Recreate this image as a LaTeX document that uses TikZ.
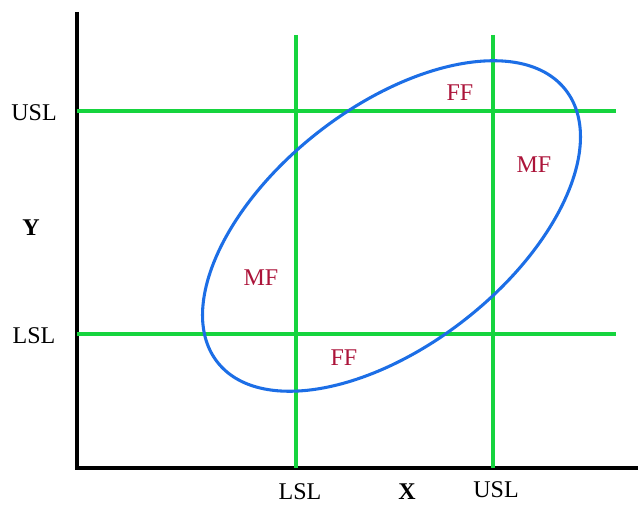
\documentclass[tikz,border=0pt]{standalone}
\usepackage{fontspec}
\setmainfont{Liberation Serif}
\usetikzlibrary{positioning}
\definecolor{specgreen}{RGB}{22,212,62}
\definecolor{cloudblue}{RGB}{28,110,230}
\definecolor{zonered}{RGB}{172,20,58}

\begin{document}
\begin{tikzpicture}[
  x=0.75pt,y=0.75pt,
  axis/.style={draw=black,line width=2.4pt},
  limit/.style={draw=specgreen,line width=2.3pt},
  cloud/.style={draw=cloudblue,line width=2.3pt},
  lbl/.style={font=\fontsize{18}{20}\selectfont,inner sep=0pt},
  zone/.style={lbl,text=zonered}
]
\useasboundingbox (0,0) rectangle (640,506);

% axes
\draw[axis] (77,494) -- (77,38) -- (638,38);

% spec limits
\draw[limit] (296,471) -- (296,38);
\draw[limit] (493,471) -- (493,38);
\draw[limit] (77,395) -- (616,395);
\draw[limit] (77,172) -- (616,172);

% joint distribution
\draw[cloud,rotate around={38:(391.5,280)}] (391.5,280) ellipse (221 and 119);

% axis labels
\node[lbl] (yusl) at (34,393) {USL};
\node[lbl,font=\fontsize{18}{20}\selectfont\bfseries] (ylab) at (31,278) {Y};
\node[lbl] (ylsl) at (34,170) {LSL};
\node[lbl] (xlsl) at (300,14) {LSL};
\node[lbl,font=\fontsize{18}{20}\selectfont\bfseries] (xlab) at (407,14) {X};
\node[lbl] (xusl) at (496,16) {USL};

% regions
\node[zone] (fftop) at (460,413) {FF};
\node[zone] (mfright) at (534,341) {MF};
\node[zone] (mfleft) at (261,228) {MF};
\node[zone] (ffbot) at (344,148) {FF};
\end{tikzpicture}
\end{document}
